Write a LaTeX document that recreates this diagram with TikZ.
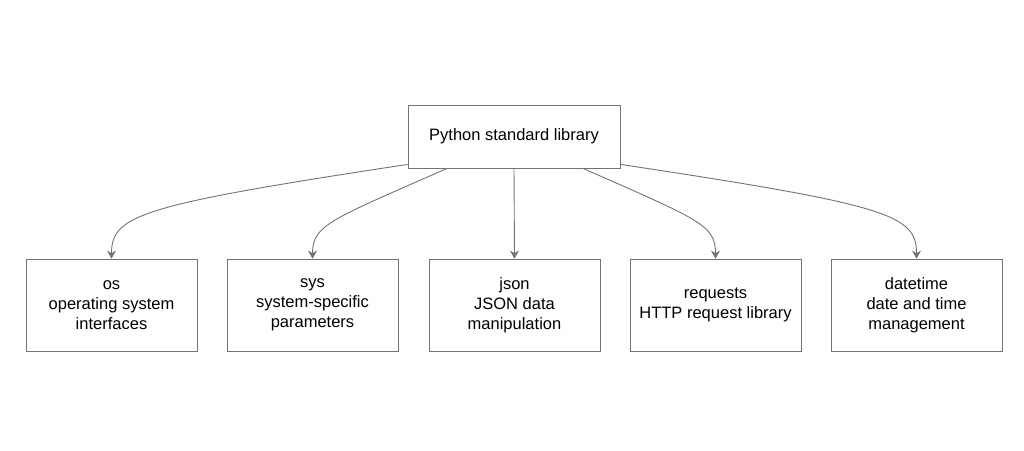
\documentclass[tikz,border=0pt]{standalone}
\usepackage{fontspec}
\setmainfont{Liberation Sans}
\usetikzlibrary{arrows.meta,calc}
\begin{document}
\begin{tikzpicture}[x=1pt,y=-1pt,
  box/.style={draw=black!55,line width=0.8pt,minimum width=171pt,minimum height=92pt,align=center,inner sep=0pt,font=\fontsize{16.5}{20}\selectfont},
  top/.style={draw=black!55,line width=0.8pt,minimum width=212pt,minimum height=63pt,align=center,font=\fontsize{16.5}{20}\selectfont},
  arr/.style={draw=black!55,line width=0.9pt,-{Stealth[length=8pt,width=9pt]}}]
\useasboundingbox (0,0) rectangle (1024,450);
\node[top] (p) at (514,136.5) {Python standard library};
\node[box] (a) at (111.5,305) {os\\operating system\\interfaces};
\node[box] (b) at (312.5,305) {sys\\system-specific\\parameters};
\node[box] (c) at (514.5,305) {json\\JSON data\\manipulation};
\node[box] (d) at (715.5,305) {requests\\HTTP request library};
\node[box] (e) at (916.5,305) {datetime\\date and time\\management};
\draw[arr] ($(p.south west)+(0,-4)$) .. controls (140,205) and (111.5,215) .. (a.north);
\draw[arr] ($(p.south)+(-67,0)$) .. controls (330,220) and (312.5,225) .. (b.north);
\draw[arr] (p.south) -- (c.north);
\draw[arr] ($(p.south)+(69,0)$) .. controls (700,220) and (715.5,225) .. (d.north);
\draw[arr] ($(p.south east)+(0,-4)$) .. controls (890,205) and (916.5,215) .. (e.north);
\end{tikzpicture}
\end{document}
